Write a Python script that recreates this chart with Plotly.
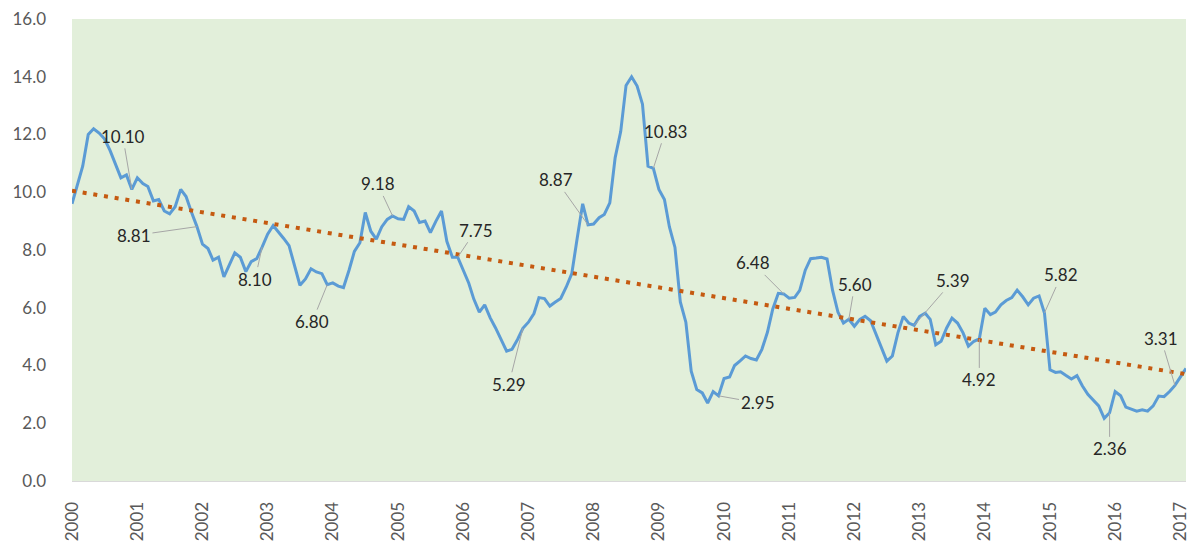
import plotly.graph_objects as go
import pandas as pd

# ---- data (monthly values, Jan 2000 .. Feb 2017) ----
v2000 = [9.6, 10.3, 10.9, 12.0, 12.2, 12.05, 11.85, 11.45, 11.0, 10.5, 10.6, 10.10]
v2001 = [10.5, 10.3, 10.2, 9.7, 9.75, 9.35, 9.25, 9.5, 10.1, 9.85, 9.3, 8.81]
v2002 = [8.2, 8.05, 7.65, 7.75, 7.07, 7.5, 7.9, 7.75, 7.25, 7.6, 7.7, 8.10]
v2003 = [8.55, 8.85, 8.65, 8.4, 8.15, 7.41, 6.78, 7.0, 7.35, 7.24, 7.18, 6.80]
v2004 = [6.86, 6.75, 6.7, 7.3, 7.95, 8.25, 9.3, 8.65, 8.38, 8.8, 9.06, 9.18]
v2005 = [9.08, 9.06, 9.5, 9.35, 8.95, 9.0, 8.6, 9.0, 9.35, 8.3, 7.75, 7.75]
v2006 = [7.3, 6.85, 6.3, 5.85, 6.1, 5.65, 5.3, 4.9, 4.5, 4.56, 4.9, 5.29]
v2007 = [5.5, 5.8, 6.35, 6.32, 6.06, 6.2, 6.32, 6.72, 7.18, 8.4, 9.6, 8.87]
v2008 = [8.9, 9.12, 9.23, 9.63, 11.2, 12.1, 13.7, 14.0, 13.68, 13.05, 10.9, 10.83]
v2009 = [10.1, 9.75, 8.8, 8.09, 6.2, 5.5, 3.8, 3.17, 3.05, 2.7, 3.1, 2.95]
v2010 = [3.55, 3.6, 4.0, 4.16, 4.33, 4.24, 4.19, 4.56, 5.15, 5.96, 6.5, 6.48]
v2011 = [6.33, 6.36, 6.6, 7.3, 7.7, 7.72, 7.75, 7.69, 6.6, 5.85, 5.47, 5.60]
v2012 = [5.36, 5.6, 5.7, 5.55, 5.1, 4.6, 4.15, 4.33, 5.13, 5.7, 5.47, 5.39]
v2013 = [5.7, 5.81, 5.6, 4.72, 4.84, 5.3, 5.64, 5.47, 5.13, 4.67, 4.84, 4.92]
v2014 = [5.98, 5.76, 5.85, 6.1, 6.25, 6.35, 6.61, 6.38, 6.1, 6.33, 6.41, 5.82]
v2015 = [3.85, 3.76, 3.78, 3.65, 3.53, 3.65, 3.3, 3.0, 2.8, 2.6, 2.17, 2.36]
v2016 = [3.1, 2.95, 2.56, 2.49, 2.42, 2.47, 2.42, 2.6, 2.94, 2.92, 3.1, 3.31]
v2017 = [3.6, 3.9]

years = list(range(2000, 2017))
yearly = [v2000, v2001, v2002, v2003, v2004, v2005, v2006, v2007, v2008,
          v2009, v2010, v2011, v2012, v2013, v2014, v2015, v2016]
tick_years = list(range(2000, 2018))

# linear trend end values
trend_start = 10.05
trend_end = 3.70

# label offsets (pixels, text centre relative to point) for each December label
label_offsets = [(-9, -53), (-63, 9), (-7, 32), (-15, 37), (-15, -32), (18, -27),
                 (-14, 56), (-32, -45), (12, -37), (39, 7), (-31, -31), (6, -35),
                 (39, -45), (0, 41), (17, -38), (0, 36), (-14, -47)]

values = [v for yr in yearly for v in yr] + v2017
dates = pd.date_range("2000-01-01", periods=len(values), freq="MS")

fig = go.Figure()
fig.add_trace(go.Scatter(
    x=dates, y=values, mode="lines",
    line=dict(color="#5B9BD5", width=3),
    hoverinfo="x+y", showlegend=False))
fig.add_trace(go.Scatter(
    x=[dates[0], dates[-1]], y=[trend_start, trend_end], mode="lines",
    line=dict(color="#C55A11", width=4, dash="4px,6.8px"),
    showlegend=False, hoverinfo="skip"))

annotations = []
for k, (yr, vals) in enumerate(zip(years, yearly)):
    dx, dy = label_offsets[k]
    annotations.append(dict(
        x=pd.Timestamp(f"{yr}-12-01"), y=vals[11], xref="x", yref="y",
        text=f"{vals[11]:.2f}", showarrow=True, arrowhead=0, arrowwidth=1,
        arrowcolor="#A6A6A6", ax=dx, ay=dy,
        font=dict(family="Lato, Carlito, sans-serif", size=17, color="#262626")))

fig.update_layout(
    width=1190, height=541,
    margin=dict(l=72, r=0, t=19, b=54),
    paper_bgcolor="white", plot_bgcolor="#E2EFDA",
    font=dict(family="Lato, Carlito, sans-serif", size=17, color="#595959"),
    annotations=annotations,
    xaxis=dict(
        type="date", range=[dates[0], dates[-1]],
        tickvals=[pd.Timestamp(f"{y}-01-01") for y in tick_years],
        ticktext=[str(y) for y in tick_years],
        tickangle=-90, showgrid=False, zeroline=False,
        showline=True, linecolor="#D9D9D9", linewidth=1,
        ticks="", ticklabelstandoff=13, ticklabeloverflow="allow",
        tickfont=dict(size=17, color="#595959")),
    yaxis=dict(
        range=[0, 16], dtick=2, tickformat=".1f",
        showgrid=False, zeroline=False, showline=False,
        ticks="", ticklabelstandoff=25, ticklabeloverflow="allow",
        tickfont=dict(size=17, color="#595959")),
)

fig.write_html(
    "out.html",
    config={"displayModeBar": False},
    post_script="document.body.style.margin='0';"
                "document.body.style.overflow='hidden';",
)
